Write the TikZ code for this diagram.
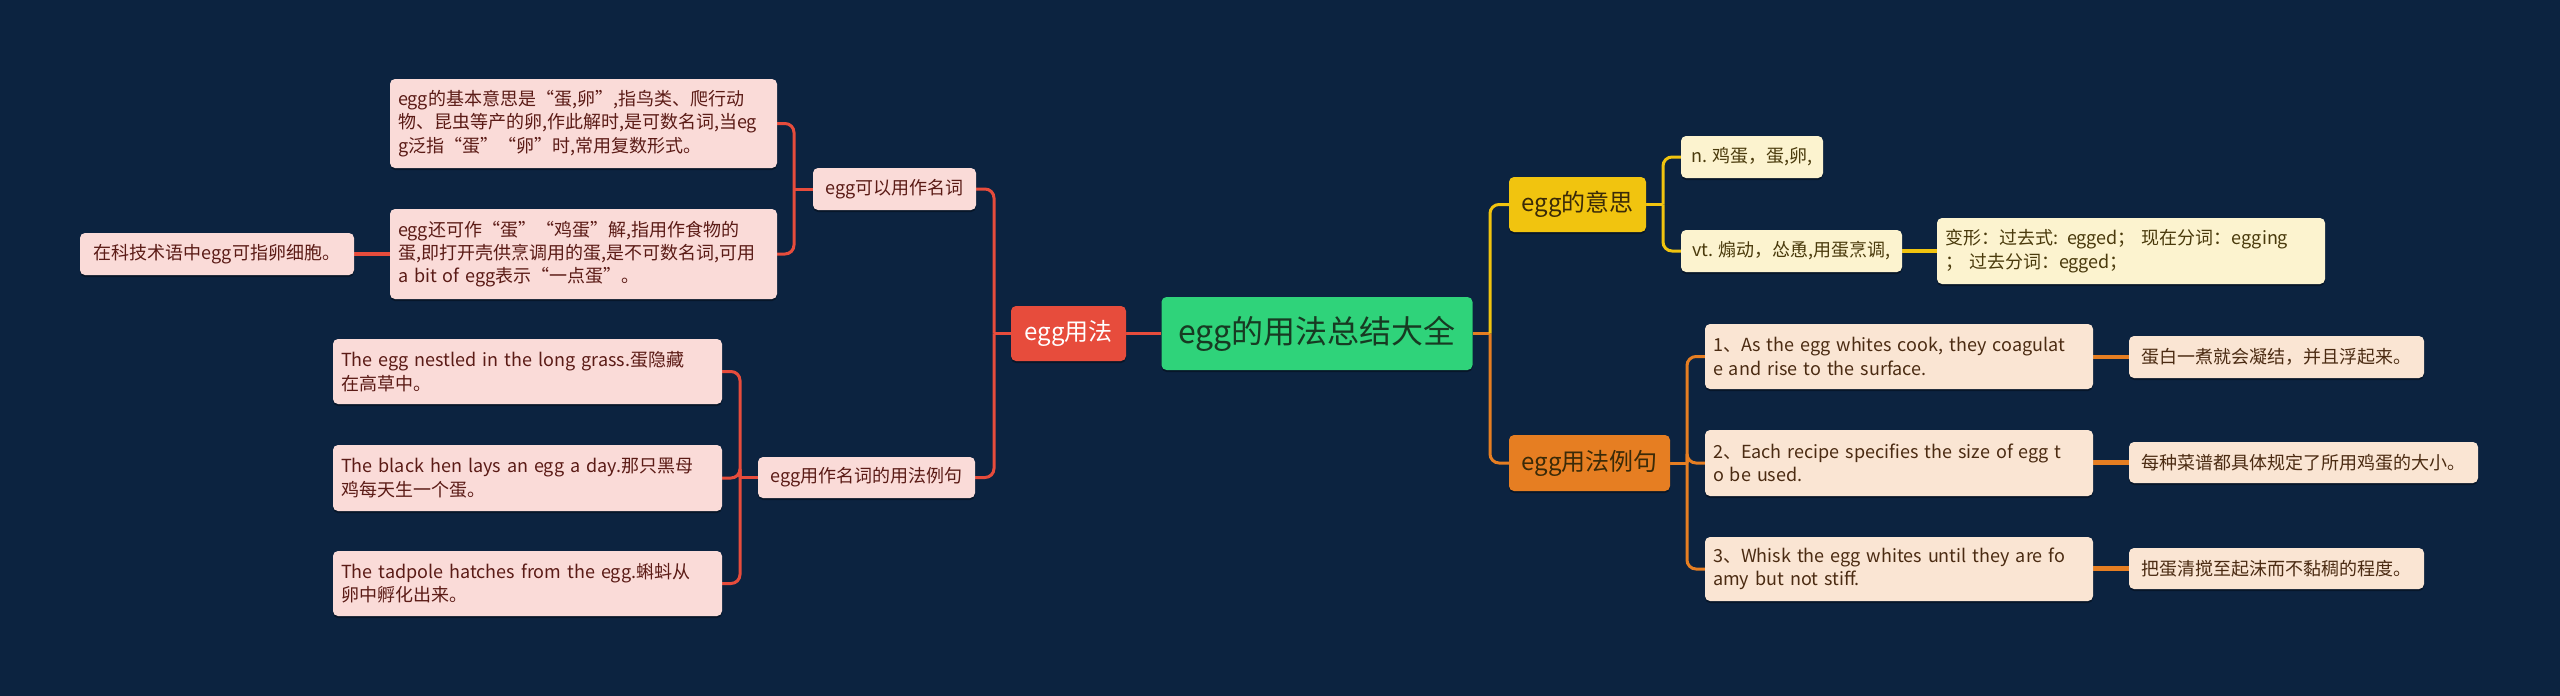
\documentclass[tikz,border=0pt]{standalone}
\usepackage{fontspec}
\setmainfont{Noto Sans CJK SC}
\usetikzlibrary{shadows}
\definecolor{bg}{HTML}{0C2340}
\definecolor{cgreen}{HTML}{2FD37A}
\definecolor{cred}{HTML}{E74C3C}
\definecolor{cyel}{HTML}{F1C40F}
\definecolor{corg}{HTML}{E67E22}
\definecolor{cpink}{HTML}{FADBD8}
\definecolor{ccream}{HTML}{FCF3CF}
\definecolor{cpeach}{HTML}{FAE5D3}
\definecolor{tpink}{HTML}{5B1B16}
\definecolor{tcream}{HTML}{4A3A0C}
\definecolor{tpeach}{HTML}{4B2B12}
\definecolor{troot}{HTML}{173A22}
\definecolor{tdark}{HTML}{3A2A08}
\pgfdeclarelayer{back}
\pgfdeclarelayer{lines}
\pgfsetlayers{back,lines,main}
\tikzset{
  bx/.style 2 args={rounded corners=5pt, minimum width=#1pt, minimum height=#2pt,
    inner xsep=8pt, inner ysep=3pt, align=left,
    drop shadow={shadow xshift=0pt, shadow yshift=-2pt, fill=black, opacity=0.35}},
  tw/.style={text width=#1pt},
  subf/.style={font=\fontsize{18}{23.3}\selectfont},
  pk/.style={fill=cpink, text=tpink, subf},
  cr/.style={fill=ccream, text=tcream, subf},
  pc/.style={fill=cpeach, text=tpeach, subf},
  rootn/.style={fill=cgreen, text=troot, font=\fontsize{32}{38}\selectfont},
  lvred/.style={fill=cred, text=white, font=\fontsize{24}{29}\selectfont},
  lvyel/.style={fill=cyel, text=tdark, font=\fontsize{24}{29}\selectfont},
  lvorg/.style={fill=corg, text=tdark, font=\fontsize{24}{29}\selectfont},
  redln/.style={draw=cred, line width=3pt},
  yelln/.style={draw=cyel, line width=3pt},
  orgln/.style={draw=corg, line width=3pt},
  rc/.style={rounded corners=9pt},
}
\begin{document}
\begin{tikzpicture}[x=1pt,y=-1pt]
\begin{pgfonlayer}{back}
\fill[bg] (0,0) rectangle (2560,696);
\end{pgfonlayer}

% root and level 1
\node[bx={311}{73}, rootn, align=center] (root) at (1317,333.5) {egg的用法总结大全};
\node[bx={115}{55}, lvred, align=center] (use) at (1068.5,333.5) {egg用法};
\node[bx={137}{55}, lvyel, align=center] (mean) at (1577.5,204.5) {egg的意思};
\node[bx={161}{56}, lvorg, align=center] (exs) at (1589.5,463) {egg用法例句};

% left side
\node[bx={163}{42}, pk] (noun) at (894.5,189) {egg可以用作名词};
\node[bx={387}{89}, tw=371, pk] (basic) at (583.5,123.5) {egg的基本意思是“蛋,卵”,指鸟类、爬行动\\物、昆虫等产的卵,作此解时,是可数名词,当eg\\g泛指“蛋”“卵”时,常用复数形式。};
\node[bx={387}{90}, tw=371, pk] (also) at (583.5,254) {egg还可作“蛋”“鸡蛋”解,指用作食物的\\蛋,即打开壳供烹调用的蛋,是不可数名词,可用\\a bit of egg表示“一点蛋”。};
\node[bx={274}{42}, pk] (sci) at (217,254) {在科技术语中egg可指卵细胞。};
\node[bx={217}{41}, pk] (exn) at (866.5,477.5) {egg用作名词的用法例句};
\node[bx={389}{65}, tw=373, pk] (e1) at (527.5,371.5) {The egg nestled in the long grass.蛋隐藏\\在高草中。};
\node[bx={389}{66}, tw=373, pk] (e2) at (527.5,478) {The black hen lays an egg a day.那只黑母\\鸡每天生一个蛋。};
\node[bx={389}{65}, tw=373, pk] (e3) at (527.5,583.5) {The tadpole hatches from the egg.蝌蚪从\\卵中孵化出来。};

% right side
\node[bx={142}{42}, cr] (n1) at (1752,157) {n. 鸡蛋，蛋,卵,};
\node[bx={221}{42}, cr] (vt) at (1791.5,251) {vt. 煽动，怂恿,用蛋烹调,};
\node[bx={388}{66}, tw=372, cr] (form) at (2131,251) {变形：过去式: egged；\ 现在分词：egging\\；\ 过去分词：egged；};
\node[bx={388}{65}, tw=372, pc] (s1) at (1899,356.5) {1、As the egg whites cook, they coagulat\\e and rise to the surface.};
\node[bx={388}{66}, tw=372, pc] (s2) at (1899,463) {2、Each recipe specifies the size of egg t\\o be used.};
\node[bx={388}{64}, tw=372, pc] (s3) at (1899,569) {3、Whisk the egg whites until they are fo\\amy but not stiff.};
\node[bx={295}{42}, pc] (t1) at (2276.5,357) {蛋白一煮就会凝结，并且浮起来。};
\node[bx={349}{41}, pc] (t2) at (2303.5,462.5) {每种菜谱都具体规定了所用鸡蛋的大小。};
\node[bx={295}{41}, pc] (t3) at (2276.5,568.5) {把蛋清搅至起沫而不黏稠的程度。};

\coordinate (lj) at (994,333.5);
\coordinate (nj) at (794,189);
\coordinate (xj) at (740,477.5);
\coordinate (rj) at (1490,333.5);
\coordinate (mj) at (1663,204.5);
\coordinate (sj) at (1687,463);

\begin{pgfonlayer}{lines}
\draw[redln] (root.west) -- (use.east);
\draw[redln] (use.west) -- (lj);
\draw[redln, rc] (lj) |- (noun.east);
\draw[redln, rc] (lj) |- (exn.east);
\draw[redln] (noun.west) -- (nj);
\draw[redln, rc] (nj) |- (basic.east);
\draw[redln, rc] (nj) |- (also.east);
\draw[redln, line width=4.5pt] (also.west) -- (sci.east);
\draw[redln] (exn.west) -- (xj);
\draw[redln, rc] (xj) |- (e1.east);
\draw[redln, rc] (xj) |- (e2.east);
\draw[redln, rc] (xj) |- (e3.east);

\draw[orgln] (root.east) -- (rj);
\draw[yelln, rc] (rj) |- (mean.west);
\draw[orgln, rc] (rj) |- (exs.west);
\draw[yelln] (mean.east) -- (mj);
\draw[yelln, rc] (mj) |- (n1.west);
\draw[yelln, rc] (mj) |- (vt.west);
\draw[yelln, line width=4.5pt] (vt.east) -- (form.west);
\draw[orgln] (exs.east) -- (sj);
\draw[orgln, rc] (sj) |- (s1.west);
\draw[orgln, rc] (sj) |- (s2.west);
\draw[orgln, rc] (sj) |- (s3.west);
\draw[orgln, line width=4.5pt] (s1.east |- t1.west) -- (t1.west);
\draw[orgln, line width=4.5pt] (s2.east |- t2.west) -- (t2.west);
\draw[orgln, line width=4.5pt] (s3.east |- t3.west) -- (t3.west);
\end{pgfonlayer}
\end{tikzpicture}
\end{document}
